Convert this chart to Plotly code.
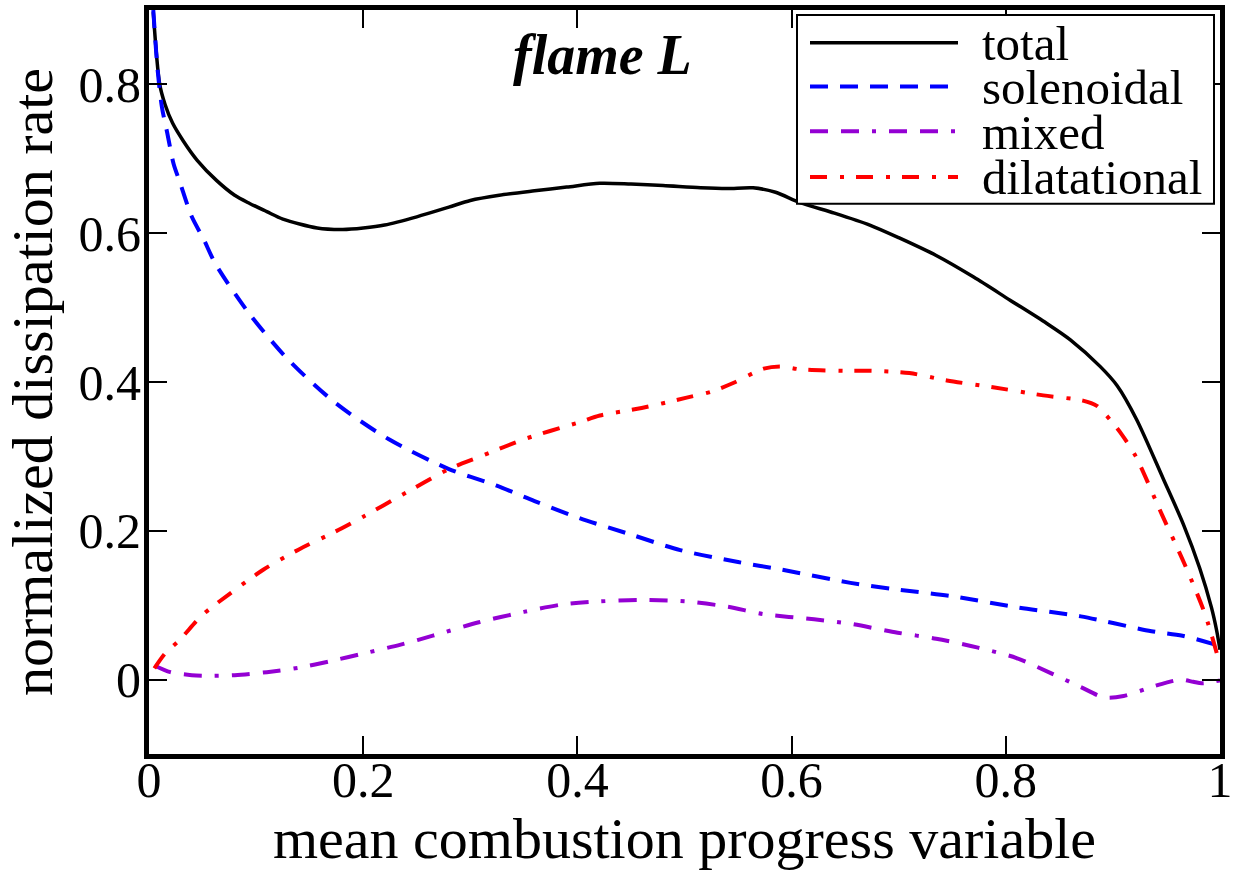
import plotly.graph_objects as go

# mean combustion progress variable (x) and normalized dissipation rates
total_x = [0.004, 0.01, 0.015, 0.022, 0.032, 0.045, 0.063, 0.08, 0.094, 0.11, 0.125, 0.157, 0.181, 0.2,
           0.22, 0.25, 0.28, 0.30, 0.327, 0.36, 0.39, 0.421, 0.45, 0.48, 0.515, 0.54, 0.564, 0.585, 0.608,
           0.64, 0.673, 0.70, 0.735, 0.77, 0.804, 0.838, 0.86, 0.888, 0.904, 0.922, 0.947, 0.966, 0.981,
           0.992, 0.997, 1.0]
total_y = [0.897, 0.80, 0.773, 0.748, 0.724, 0.698, 0.671, 0.651, 0.640, 0.629, 0.619, 0.607, 0.605, 0.607,
           0.611, 0.622, 0.635, 0.644, 0.651, 0.657, 0.662, 0.667, 0.666, 0.664, 0.661, 0.660, 0.661, 0.655,
           0.641, 0.627, 0.611, 0.594, 0.570, 0.541, 0.510, 0.479, 0.457, 0.421, 0.395, 0.350, 0.270, 0.208,
           0.150, 0.097, 0.065, 0.04]

sol_x = [0.004, 0.008, 0.012, 0.017, 0.023, 0.029, 0.040, 0.051, 0.062, 0.093, 0.13, 0.174, 0.224, 0.28,
         0.324, 0.36, 0.402, 0.45, 0.496, 0.55, 0.59, 0.655, 0.699, 0.75, 0.811, 0.87, 0.936, 0.965, 1.0]
sol_y = [0.9, 0.82, 0.77, 0.735, 0.693, 0.668, 0.622, 0.592, 0.559, 0.493, 0.430, 0.372, 0.323, 0.283,
         0.261, 0.24, 0.217, 0.195, 0.174, 0.158, 0.148, 0.130, 0.121, 0.112, 0.097, 0.085, 0.065, 0.059, 0.045]

mix_x = [0.005, 0.02, 0.04, 0.058, 0.08, 0.11, 0.14, 0.17, 0.2, 0.235, 0.265, 0.308, 0.35, 0.386, 0.42,
         0.458, 0.502, 0.54, 0.574, 0.621, 0.655, 0.699, 0.735, 0.774, 0.81, 0.843, 0.87, 0.892, 0.91,
         0.936, 0.95, 0.964, 0.975, 0.983, 0.99, 1.0]
mix_y = [0.019, 0.01, 0.006, 0.005, 0.006, 0.01, 0.016, 0.025, 0.035, 0.047, 0.059, 0.077, 0.091, 0.101,
         0.105, 0.107, 0.105, 0.098, 0.088, 0.081, 0.075, 0.063, 0.055, 0.043, 0.029, 0.008, -0.01, -0.024,
         -0.022, -0.01, -0.004, 0.0, -0.003, -0.005, -0.004, -0.001]

dil_x = [0.005, 0.015, 0.029, 0.05, 0.075, 0.107, 0.14, 0.174, 0.2, 0.236, 0.28, 0.308, 0.35, 0.402,
         0.421, 0.46, 0.502, 0.525, 0.546, 0.574, 0.59, 0.608, 0.655, 0.676, 0.71, 0.745, 0.788, 0.835,
         0.872, 0.885, 0.894, 0.908, 0.921, 0.946, 0.967, 0.986, 1.0]
dil_y = [0.015, 0.035, 0.054, 0.087, 0.115, 0.148, 0.175, 0.199, 0.219, 0.248, 0.283, 0.299, 0.323, 0.346,
         0.355, 0.365, 0.379, 0.387, 0.399, 0.418, 0.421, 0.417, 0.415, 0.415, 0.412, 0.402, 0.393, 0.382,
         0.375, 0.368, 0.355, 0.33, 0.301, 0.221, 0.155, 0.088, 0.02]

series_names = ["total", "solenoidal", "mixed", "dilatational"]
series_colors = ["#000000", "#0000ff", "#9400d3", "#ff0000"]
series_dash = ["solid", "18px,12px", "18px,13px,18px,13px,4px,13px", "17px,13px,4px,12px"]
series_width = [3.5, 4, 4, 4]
series_x = [total_x, sol_x, mix_x, dil_x]
series_y = [total_y, sol_y, mix_y, dil_y]

FONT = "Liberation Serif, Times New Roman, Times, serif"
W, H = 1238, 871
ML, MR, MT, MB = 149, 18, 5, 117
PW, PH = W - ML - MR, H - MT - MB

fig = go.Figure()
for name, xs, ys, c, d, w in zip(series_names, series_x, series_y, series_colors, series_dash, series_width):
    fig.add_trace(go.Scatter(x=xs, y=ys, mode="lines", name=name, showlegend=False,
                             line=dict(color=c, dash=d, width=w, shape="spline", smoothing=0.8)))


def px_x(p):
    return (p - ML) / PW


def px_y(p):
    return 1 - (p - MT) / PH


# hand-built legend box
shapes = [dict(type="rect", xref="paper", yref="paper",
               x0=px_x(797), x1=px_x(1214), y0=px_y(200), y1=px_y(10),
               line=dict(color="black", width=2), fillcolor="white", layer="above")]
annotations = []
row_px = [38, 82, 127, 173]
for name, c, d, w, ry in zip(series_names, series_colors, series_dash, series_width, row_px):
    shapes.append(dict(type="line", xref="paper", yref="paper",
                       x0=px_x(810), x1=px_x(958), y0=px_y(ry), y1=px_y(ry),
                       line=dict(color=c, dash=d, width=w), layer="above"))
    annotations.append(dict(xref="paper", yref="paper", x=px_x(980), y=px_y(ry + 1),
                            xanchor="left", yanchor="middle", showarrow=False, text=name,
                            font=dict(family=FONT, size=49, color="black")))

annotations.append(dict(xref="x", yref="y", x=0.423, y=0.84, xanchor="center", yanchor="middle",
                        showarrow=False, text="<b><i>flame L</i></b>",
                        font=dict(family=FONT, size=56, color="black")))

axis_common = dict(showline=True, linewidth=5, linecolor="black", mirror="ticks",
                   ticks="inside", ticklen=18, tickwidth=2, tickcolor="black",
                   showgrid=False, zeroline=False,
                   tickfont=dict(family=FONT, size=50, color="black"))

fig.update_layout(
    width=W, height=H, margin=dict(l=ML, r=MR, t=MT, b=MB),
    paper_bgcolor="white", plot_bgcolor="white",
    xaxis=dict(range=[0, 1], tickvals=[0, 0.2, 0.4, 0.6, 0.8, 1],
               ticktext=["0", "0.2", "0.4", "0.6", "0.8", "1"], ticklabelstandoff=-22,
               title=dict(text="mean combustion progress variable", standoff=3,
                          font=dict(family=FONT, size=58, color="black")),
               **axis_common),
    yaxis=dict(range=[-0.1, 0.9], tickvals=[0, 0.2, 0.4, 0.6, 0.8],
               ticktext=["0", "0.2", "0.4", "0.6", "0.8"], ticklabelstandoff=-7,
               title=dict(text="normalized dissipation rate", standoff=10,
                          font=dict(family=FONT, size=58, color="black")),
               **axis_common),
    shapes=shapes, annotations=annotations, showlegend=False,
)

fig.write_html("out.html")
